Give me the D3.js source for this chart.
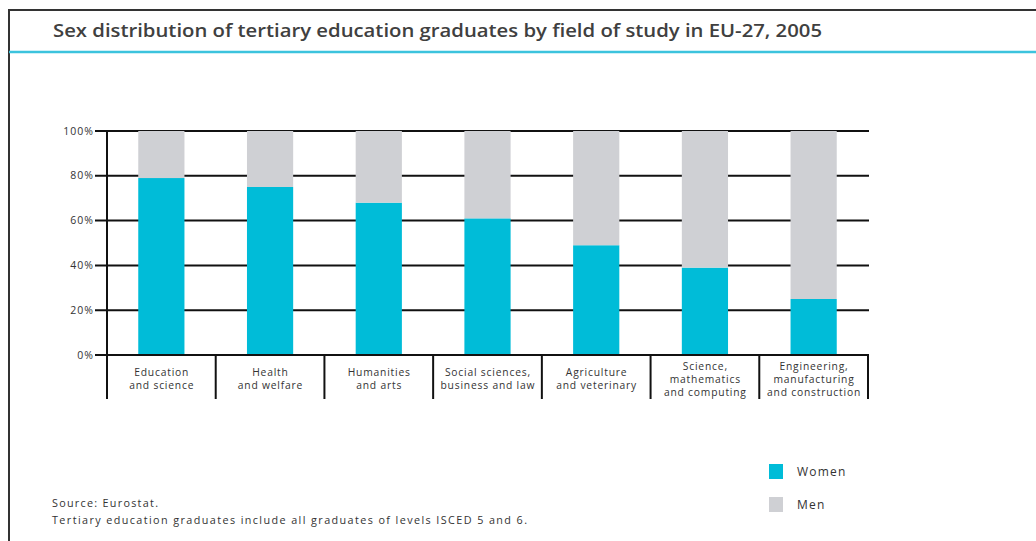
<!DOCTYPE html>
<html>
<head>
<meta charset="utf-8">
<script src="https://cdn.jsdelivr.net/npm/d3@7"></script>
<style>
  html, body { margin: 0; padding: 0; background: #fff; }
  svg { display: block; }
  text { font-family: "Open Sans", "DejaVu Sans", sans-serif; fill: #333; }
</style>
</head>
<body>
<svg id="chart" width="1036" height="541"></svg>
<script>
// ---- data ----
const categories = [
  "Education and science",
  "Health and welfare",
  "Humanities and arts",
  "Social sciences, business and law",
  "Agriculture and veterinary",
  "Science, mathematics and computing",
  "Engineering, manufacturing and construction"
];
const categoryLines = [
  ["Education", "and science"],
  ["Health", "and welfare"],
  ["Humanities", "and arts"],
  ["Social sciences,", "business and law"],
  ["Agriculture", "and veterinary"],
  ["Science,", "mathematics", "and computing"],
  ["Engineering,", "manufacturing", "and construction"]
];
const women = [79, 75, 68, 61, 49, 39, 25];
const men = women.map(v => 100 - v);
const yTicks = [0, 20, 40, 60, 80, 100];
const tickLabels = ["0%", "20%", "40%", "60%", "80%", "100%"];
const seriesNames = ["Women", "Men"];
const title = "Sex distribution of tertiary education graduates by field of study in EU-27, 2005";
const notes = ["Source: Eurostat.", "Tertiary education graduates include all graduates of levels ISCED 5 and 6."];

// ---- layout ----
const svg = d3.select("#chart");
const colors = { Women: "#00bcd8", Men: "#cfd0d4" };

const x = d3.scaleBand().domain(categories).range([107, 868])
  .paddingInner(0.575).paddingOuter(0.2875);
const y = d3.scaleLinear().domain([0, 100]).range([355, 131]);

// frame
svg.append("line").attr("x1", 9).attr("x2", 1036).attr("y1", 10).attr("y2", 10)
  .attr("stroke", "#333").attr("stroke-width", 2);
svg.append("line").attr("x1", 9).attr("x2", 9).attr("y1", 9).attr("y2", 541)
  .attr("stroke", "#333").attr("stroke-width", 2);
svg.append("line").attr("x1", 9).attr("x2", 1036).attr("y1", 52).attr("y2", 52)
  .attr("stroke", "#3cc3dd").attr("stroke-width", 2.5);

// title
svg.append("text").attr("x", 53).attr("y", 36.5)
  .attr("font-size", 18).attr("font-weight", 600)
  .attr("textLength", 769).attr("lengthAdjust", "spacingAndGlyphs")
  .style("fill", "#404040")
  .text(title);

// gridlines
svg.append("g").selectAll("line").data(yTicks).join("line")
  .attr("x1", 95).attr("x2", 869)
  .attr("y1", d => y(d)).attr("y2", d => y(d))
  .attr("stroke", "#111").attr("stroke-width", 2);

// tick labels
svg.append("g").selectAll("text").data(yTicks).join("text")
  .attr("x", 94).attr("y", d => y(d) + 3.5)
  .attr("text-anchor", "end").attr("font-size", 10.5)
  .style("letter-spacing", "1px")
  .text((d, i) => tickLabels[i]);

// bars
const bw = x.bandwidth();
svg.append("g").selectAll("rect.w").data(categories).join("rect")
  .attr("x", d => x(d)).attr("width", bw)
  .attr("y", (d, i) => y(women[i])).attr("height", (d, i) => y(0) - y(women[i]))
  .attr("fill", colors.Women);
svg.append("g").selectAll("rect.m").data(categories).join("rect")
  .attr("x", d => x(d)).attr("width", bw)
  .attr("y", (d, i) => y(women[i] + men[i])).attr("height", (d, i) => y(women[i]) - y(women[i] + men[i]))
  .attr("fill", colors.Men);

// y axis vertical and category dividers
const step = x.step();
const x0 = 107;
svg.append("line").attr("x1", x0).attr("x2", x0).attr("y1", y(100) - 1).attr("y2", 399)
  .attr("stroke", "#111").attr("stroke-width", 2);
svg.append("g").selectAll("line").data(d3.range(1, categories.length + 1)).join("line")
  .attr("x1", i => x0 + i * step).attr("x2", i => x0 + i * step)
  .attr("y1", y(0)).attr("y2", 399)
  .attr("stroke", "#111").attr("stroke-width", 2);
svg.append("line").attr("x1", 95).attr("x2", 869).attr("y1", y(0)).attr("y2", y(0))
  .attr("stroke", "#111").attr("stroke-width", 2);

// category labels
const lh = 13;
const lab = svg.append("g").selectAll("text").data(categories).join("text")
  .attr("text-anchor", "middle").attr("font-size", 10.3)
  .style("letter-spacing", "0.8px");
lab.each(function(d, i) {
  const lines = categoryLines[i];
  const cx = x(d) + bw / 2 + 0.4;
  const startY = 379 - (lines.length - 1) * lh / 2 + 3.5;
  d3.select(this).selectAll("tspan").data(lines).join("tspan")
    .attr("x", cx).attr("y", (l, j) => startY + j * lh).text(l => l);
});

// legend
const lg = svg.append("g");
seriesNames.forEach((s, i) => {
  const ly = 464 + i * 33;
  lg.append("rect").attr("x", 769).attr("y", ly).attr("width", 14).attr("height", 15)
    .attr("fill", colors[s]);
  lg.append("text").attr("x", 797).attr("y", ly + 12).attr("font-size", 12)
    .style("letter-spacing", "1.2px").text(s);
});

// notes
const noteLens = [106, 475];
svg.append("g").selectAll("text").data(notes).join("text")
  .attr("x", 52).attr("y", (d, i) => 507 + i * 17)
  .attr("font-size", 10.8)
  .attr("textLength", (d, i) => noteLens[i]).attr("lengthAdjust", "spacing")
  .text(d => d);
</script>
</body>
</html>
